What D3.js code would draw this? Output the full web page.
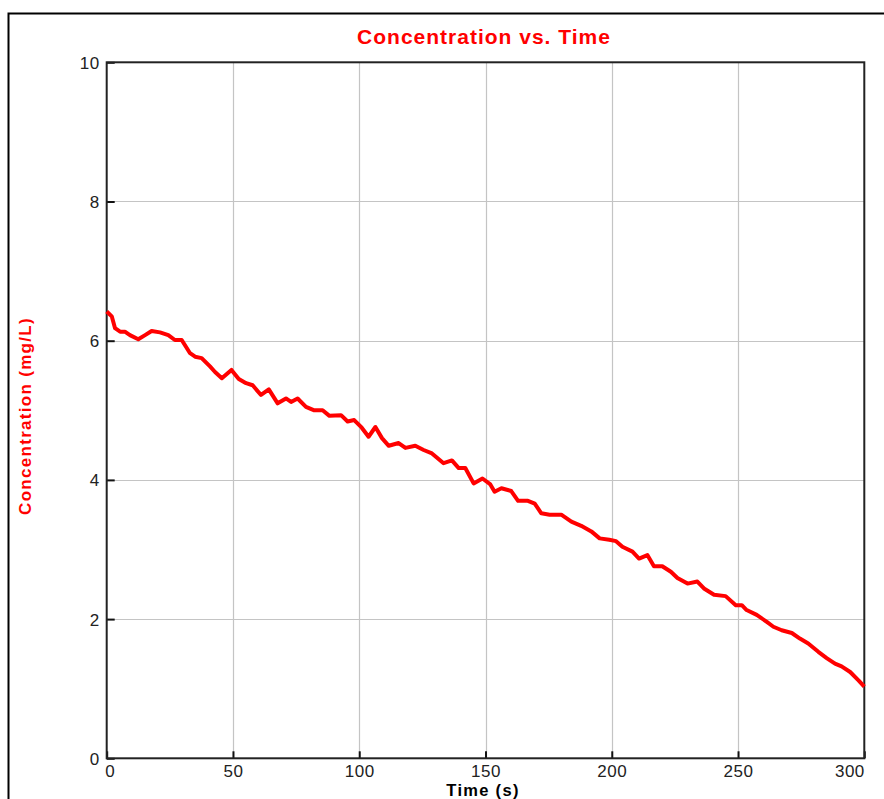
<!DOCTYPE html>
<html>
<head>
<meta charset="utf-8">
<script src="https://cdn.jsdelivr.net/npm/d3@7"></script>
<style>
  body { margin: 0; background: #fff; }
  svg { display: block; }
</style>
</head>
<body>
<div id="chart"></div>
<script>
  'use strict';

  // readings taken off the trace (time in s, concentration in mg/L)
  var times = [0, 2, 3.3, 5.3, 7.2, 9.2, 12.5, 15.2, 17.8, 21.1, 24.4, 27, 29.7, 33, 35, 37.6,
    40.9, 42.9, 45.6, 49.4, 52.3, 55.2, 57.8, 61.1, 64.2, 67.7, 71, 73, 75.6, 78.9, 82.2,
    85.5, 88.2, 92.8, 95.4, 98, 101, 103.7, 106.4, 109, 111.7, 115.6, 118.3, 122.2, 125.5,
    128.8, 133.4, 136.7, 139.4, 142, 145.3, 148.8, 151.8, 153.6, 156.3, 160.2, 162.9, 166.8,
    169.5, 172.1, 175.4, 180, 184, 187.9, 191.9, 195.2, 199, 201.7, 204.2, 208.2, 210.8,
    214.1, 216.7, 220, 223.4, 226, 230, 233.9, 236.5, 240.5, 245.1, 249.1, 251.5, 253.4,
    257.4, 261.4, 264, 267.3, 271.3, 274.5, 277.8, 281.8, 285.1, 288.4, 291, 294.4, 297.7, 300];
  var conc = [6.42, 6.35, 6.18, 6.13, 6.13, 6.08, 6.02, 6.08, 6.14, 6.12, 6.08, 6.01, 6.01, 5.82,
    5.77, 5.75, 5.63, 5.55, 5.46, 5.58, 5.45, 5.39, 5.36, 5.22, 5.30, 5.10, 5.17, 5.12, 5.17,
    5.05, 5.00, 5.00, 4.92, 4.93, 4.84, 4.86, 4.75, 4.62, 4.76, 4.60, 4.49, 4.53, 4.46, 4.49,
    4.43, 4.38, 4.24, 4.28, 4.17, 4.17, 3.95, 4.02, 3.94, 3.83, 3.88, 3.84, 3.70, 3.70, 3.66,
    3.52, 3.50, 3.50, 3.40, 3.34, 3.26, 3.16, 3.14, 3.12, 3.04, 2.97, 2.87, 2.92, 2.76, 2.76,
    2.68, 2.59, 2.51, 2.54, 2.44, 2.35, 2.33, 2.20, 2.20, 2.13, 2.06, 1.96, 1.89, 1.84, 1.80,
    1.72, 1.65, 1.53, 1.44, 1.36, 1.32, 1.24, 1.12, 1.03];
  var xTicks = [0, 50, 100, 150, 200, 250, 300];
  var yTicks = [0, 2, 4, 6, 8, 10];

  (function draw() {
    var W = 884, H = 799;
    var mLeft = 106.7, mRight = 864.3, mTop = 62.3, mBottom = 758.3;

    var svg = d3.select('#chart').append('svg')
      .attr('width', W)
      .attr('height', H)
      .style('font-family', 'Arial, "Liberation Sans", sans-serif');

    // outer frame
    svg.append('rect')
      .attr('x', 8.5).attr('y', 13.5)
      .attr('width', W + 10).attr('height', H + 10)
      .attr('fill', 'none').attr('stroke', '#000').attr('stroke-width', 2);

    var x = d3.scaleLinear().domain([0, 300]).range([mLeft, mRight]);
    var y = d3.scaleLinear().domain([0, 10]).range([mBottom, mTop]);

    // grid
    var grid = svg.append('g').attr('stroke', '#c4c4c4').attr('stroke-width', 1.2);
    grid.selectAll('.vx').data(xTicks.slice(1, -1)).enter().append('line')
      .attr('x1', function(d) { return Math.round(x(d)) + 0.5; })
      .attr('x2', function(d) { return Math.round(x(d)) + 0.5; })
      .attr('y1', mTop).attr('y2', mBottom);
    grid.selectAll('.hy').data(yTicks.slice(1, -1)).enter().append('line')
      .attr('y1', function(d) { return Math.round(y(d)) + 0.5; })
      .attr('y2', function(d) { return Math.round(y(d)) + 0.5; })
      .attr('x1', mLeft).attr('x2', mRight);

    // axes (ticks drawn inward)
    var xAxis = svg.append('g').attr('transform', 'translate(0,' + mBottom + ')')
      .call(d3.axisBottom(x).tickValues(xTicks).tickSizeInner(-7).tickSizeOuter(0).tickPadding(7));
    var yAxis = svg.append('g').attr('transform', 'translate(' + mLeft + ',0)')
      .call(d3.axisLeft(y).tickValues(yTicks).tickSizeInner(-8).tickSizeOuter(0).tickPadding(7));

    [xAxis, yAxis].forEach(function(a) {
      a.select('.domain').remove();
      a.selectAll('.tick line').attr('stroke', '#111').attr('stroke-width', 2);
      a.selectAll('.tick text').attr('fill', '#222')
        .style('font-size', '17px').style('letter-spacing', '0.5px');
    });
    xAxis.selectAll('.tick text')
      .attr('text-anchor', function(d) { return d === 0 ? 'start' : (d === 300 ? 'end' : 'middle'); })
      .attr('dx', function(d) { return d === 0 ? -2 : 0; });
    yAxis.selectAll('.tick text').attr('dy', '0.35em');

    // plot box
    svg.append('rect')
      .attr('x', mLeft).attr('y', mTop)
      .attr('width', mRight - mLeft).attr('height', mBottom - mTop)
      .attr('fill', 'none').attr('stroke', '#222').attr('stroke-width', 2);

    // data trace
    var pts = times.map(function(t, i) { return [t, conc[i]]; });
    svg.append('path')
      .datum(pts)
      .attr('fill', 'none')
      .attr('stroke', '#ff0000')
      .attr('stroke-width', 4)
      .attr('stroke-linejoin', 'round')
      .attr('d', d3.line()
        .x(function(d) { return x(d[0]); })
        .y(function(d) { return y(d[1]); }));

    // titles
    svg.append('text')
      .attr('x', 484).attr('y', 44)
      .attr('text-anchor', 'middle')
      .attr('fill', '#ff0000')
      .style('font-size', '21px').style('font-weight', 'bold')
      .style('letter-spacing', '1px')
      .text('Concentration vs. Time');

    svg.append('text')
      .attr('transform', 'translate(31,416) rotate(-90)')
      .attr('text-anchor', 'middle')
      .attr('fill', '#ff0000')
      .style('font-size', '17px').style('font-weight', 'bold')
      .style('letter-spacing', '1.3px')
      .text('Concentration (mg/L)');

    svg.append('text')
      .attr('x', 483).attr('y', 796)
      .attr('text-anchor', 'middle')
      .attr('fill', '#000')
      .style('font-size', '16.5px').style('font-weight', 'bold')
      .style('letter-spacing', '1.3px')
      .text('Time (s)');
  })();
</script>
</body>
</html>
